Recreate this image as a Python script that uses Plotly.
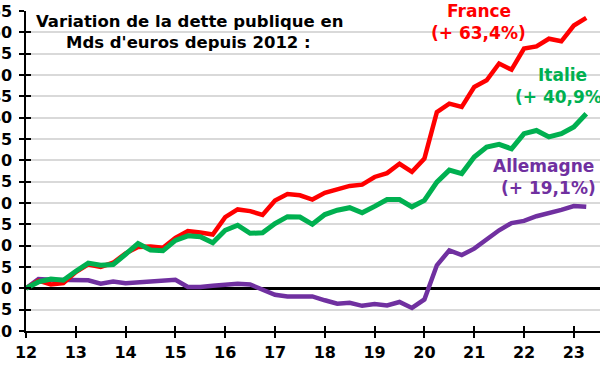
import plotly.graph_objects as go

# Quarterly variation of public debt since 2012 (%), 2012T1 .. 2023T2
france = [0, 1.8, 0.9, 1.2, 3.8, 5.6, 5.0, 6.0, 8.2, 9.7, 9.8, 9.5,
          11.8, 13.4, 13.1, 12.6, 16.7, 18.5, 18.1, 17.2, 20.6, 22.1, 21.8, 20.8,
          22.4, 23.2, 24.0, 24.3, 26.1, 27.0, 29.2, 27.3, 30.4, 41.3, 43.3, 42.5,
          47.2, 48.75, 52.7, 51.25, 56.2, 56.7, 58.5, 57.9, 61.6, 63.4]
italie = [0, 1.5, 2.2, 1.9, 4.0, 5.9, 5.4, 5.6, 8.0, 10.5, 9.0, 8.8,
          11.25, 12.3, 12.1, 10.7, 13.6, 14.8, 12.9, 13.0, 15.2, 16.8, 16.7, 15.0,
          17.3, 18.3, 18.9, 17.7, 19.2, 20.8, 20.8, 19.1, 20.6, 24.9, 27.7, 26.9,
          30.8, 33.1, 33.75, 32.7, 36.25, 37.0, 35.5, 36.25, 37.8, 40.9]
allemagne = [0, 2.2, 2.0, 2.0, 2.0, 1.9, 1.1, 1.6, 1.2, 1.4, 1.6, 1.8,
             2.0, 0.3, 0.3, 0.6, 0.9, 1.1, 0.9, -0.2, -1.5, -1.9, -2.0, -1.9,
             -2.8, -3.6, -3.4, -4.1, -3.7, -4.0, -3.2, -4.6, -2.6, 5.4, 8.9, 7.8,
             9.3, 11.6, 13.6, 15.3, 15.8, 16.9, 17.6, 18.4, 19.3, 19.1]
quarters = [12 + i / 4 for i in range(len(france))]

x_ticks = list(range(12, 24))
y_ticks = list(range(-10, 66, 5))

title_lines = ["Variation de la dette publique en", "Mds d'euros depuis 2012 :"]
labels = {
    "France": ("France", "(+ 63,4%)", "#FF0000"),
    "Italie": ("Italie", "(+ 40,9%)", "#00B050"),
    "Allemagne": ("Allemagne", "(+ 19,1%)", "#7030A0"),
}

W, H = 600, 372
ML, MR, MT, MB = 26, 0, 11, 41
PW, PH = W - ML - MR, H - MT - MB
FONT = "DejaVu Sans"

def px(xp):
    return (xp - ML) / PW

def py(yp):
    return (H - MB - yp) / PH

fig = go.Figure()
fig.add_trace(go.Scatter(x=quarters, y=allemagne, mode="lines",
                         line=dict(color="#7030A0", width=4.5), hoverinfo="skip"))
fig.add_trace(go.Scatter(x=quarters, y=france, mode="lines",
                         line=dict(color="#FF0000", width=4.5), hoverinfo="skip"))
fig.add_trace(go.Scatter(x=quarters, y=italie, mode="lines",
                         line=dict(color="#00B050", width=5), hoverinfo="skip"))
# dummy trace for the inner tick axes
fig.add_trace(go.Scatter(x=[], y=[], xaxis="x2", yaxis="y2", hoverinfo="skip"))

xr = [12, 12 + PW / 49.8]
yr = [-10, 65]

fig.update_layout(
    width=W, height=H,
    margin=dict(l=ML, r=MR, t=MT, b=MB, autoexpand=False),
    paper_bgcolor="white", plot_bgcolor="white",
    showlegend=False,
    font=dict(family=FONT, size=16, color="black"),
    xaxis=dict(range=xr, tickvals=x_ticks, ticktext=[str(v) for v in x_ticks],
               showgrid=False, zeroline=False, showline=True, linecolor="black",
               linewidth=1.5, ticks="outside", ticklen=5, tickwidth=1.5,
               tickcolor="black", ticklabelstandoff=1,
               tickfont=dict(family=FONT, size=16, color="black", weight="bold")),
    yaxis=dict(range=yr, tickvals=y_ticks, showgrid=True, gridcolor="#D9D9D9",
               gridwidth=1.5, zeroline=True, zerolinecolor="black", zerolinewidth=2.5,
               showline=True, linecolor="black", linewidth=1.5, ticks="outside",
               ticklen=5, tickwidth=1.5, tickcolor="black", ticklabelstandoff=4,
               tickfont=dict(family=FONT, size=16, color="black", weight="bold")),
    xaxis2=dict(range=xr, overlaying="x", anchor="y", side="bottom",
                tickvals=x_ticks, showticklabels=False, ticks="inside", ticklen=5,
                tickwidth=1.5, tickcolor="black", showgrid=False, zeroline=False,
                showline=False),
    yaxis2=dict(range=yr, overlaying="y", anchor="x", side="left",
                tickvals=y_ticks, showticklabels=False, ticks="inside", ticklen=5,
                tickwidth=1.5, tickcolor="black", showgrid=False, zeroline=False,
                showline=False),
)

def add_text(text, xp, yp, color, size):
    fig.add_annotation(x=px(xp), y=py(yp), xref="paper", yref="paper",
                       text=text, showarrow=False, xanchor="center",
                       yanchor="middle",
                       font=dict(family=FONT, size=size, color=color, weight="bold"))

add_text(title_lines[0], 189, 21, "black", 16.5)
add_text(title_lines[1], 188, 43, "black", 16.5)

pos = {"France": ((479, 11), (478, 33)),
       "Italie": ((562, 75), (562, 97)),
       "Allemagne": ((543, 166), (548, 188))}
for k, (l1, l2, col) in labels.items():
    (x1, y1), (x2, y2) = pos[k]
    add_text(l1, x1, y1, col, 17)
    add_text(l2, x2, y2, col, 17)

fig.write_html("out.html", config={"displayModeBar": False},
               post_script="document.body.style.margin='0';document.body.style.overflow='hidden';")
